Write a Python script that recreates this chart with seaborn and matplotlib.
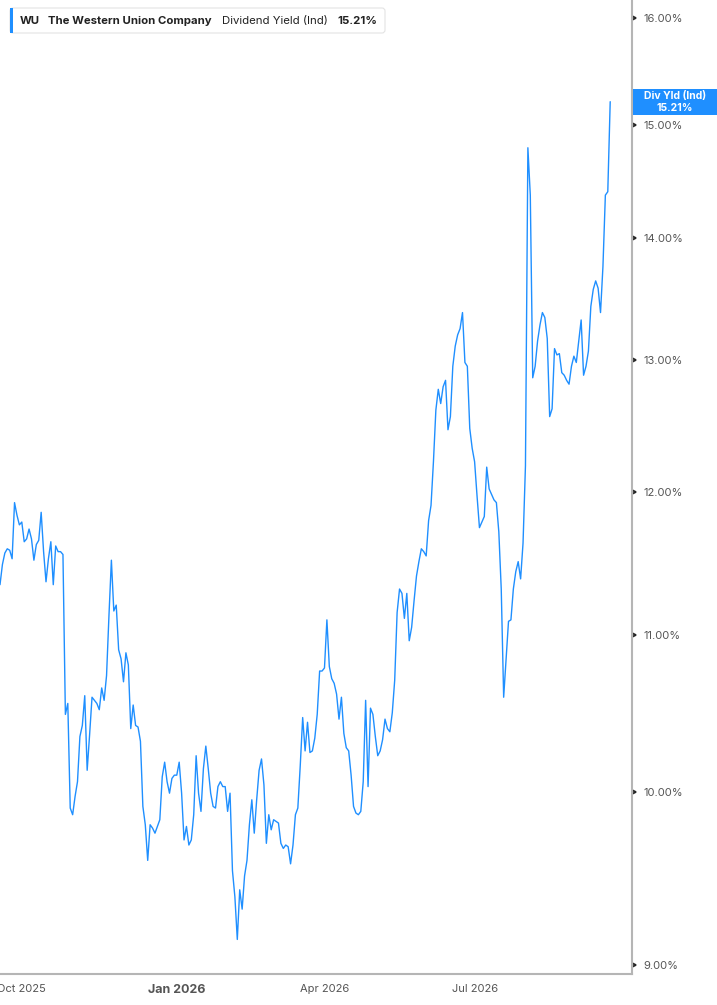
import numpy as np
import pandas as pd
import matplotlib
matplotlib.use('Agg')
import matplotlib.pyplot as plt
import seaborn as sns
from matplotlib.patches import Rectangle, FancyBboxPatch
from matplotlib.transforms import IdentityTransform
from matplotlib.ticker import FixedLocator, NullLocator
from matplotlib import markers

# Daily dividend yield (Ind), %, one value per trading day
yield_pct = [
    11.34, 11.48, 11.56, 11.59, 11.58, 11.52, 11.92, 11.83, 11.76, 11.78,
    11.64, 11.66, 11.73, 11.66, 11.51, 11.62, 11.65, 11.85, 11.57, 11.36,
    11.52, 11.64, 11.34, 11.61, 11.57, 11.57, 11.55, 10.48, 10.55, 9.90,
    9.86, 9.97, 10.06, 10.34, 10.41, 10.60, 10.13, 10.35, 10.59, 10.57,
    10.55, 10.51, 10.65, 10.57, 10.73, 11.13, 11.51, 11.16, 11.20, 10.90,
    10.84, 10.69, 10.88, 10.80, 10.39, 10.54, 10.41, 10.40, 10.31, 9.91,
    9.80, 9.59, 9.80, 9.78, 9.75, 9.79, 9.83, 10.09, 10.18, 10.06,
    9.99, 10.08, 10.10, 10.10, 10.18, 9.99, 9.71, 9.79, 9.68, 9.71,
    9.86, 10.22, 9.99, 9.88, 10.14, 10.28, 10.14, 9.99, 9.91, 9.90,
    10.03, 10.06, 10.03, 10.03, 9.88, 9.99, 9.53, 9.38, 9.14, 9.42,
    9.31, 9.50, 9.59, 9.80, 9.95, 9.75, 9.95, 10.13, 10.20, 10.04,
    9.69, 9.86, 9.77, 9.83, 9.82, 9.81, 9.69, 9.66, 9.68, 9.67,
    9.57, 9.68, 9.86, 9.90, 10.16, 10.46, 10.25, 10.43, 10.24, 10.25,
    10.33, 10.48, 10.76, 10.76, 10.78, 11.10, 10.79, 10.71, 10.68, 10.61,
    10.45, 10.59, 10.36, 10.27, 10.25, 10.10, 9.91, 9.87, 9.86, 9.88,
    10.06, 10.57, 10.03, 10.52, 10.48, 10.34, 10.22, 10.25, 10.32, 10.45,
    10.39, 10.37, 10.49, 10.70, 11.15, 11.31, 11.28, 11.11, 11.28, 10.96,
    11.05, 11.23, 11.40, 11.50, 11.59, 11.57, 11.54, 11.79, 11.90, 12.22,
    12.61, 12.77, 12.66, 12.79, 12.84, 12.46, 12.56, 12.95, 13.11, 13.20,
    13.25, 13.38, 12.98, 12.95, 12.47, 12.32, 12.22, 11.97, 11.74, 11.78,
    11.82, 12.18, 12.02, 11.98, 11.94, 11.92, 11.71, 11.31, 10.59, 10.84,
    11.09, 11.10, 11.31, 11.43, 11.50, 11.38, 11.63, 12.19, 14.79, 14.37,
    12.86, 12.95, 13.15, 13.28, 13.38, 13.34, 13.17, 12.56, 12.62, 13.09,
    13.04, 13.05, 12.90, 12.88, 12.84, 12.81, 12.95, 13.03, 12.98, 13.15,
    13.32, 12.88, 12.95, 13.07, 13.43, 13.57, 13.64, 13.58, 13.38, 13.76,
    14.37, 14.40, 15.21,
]

start_date = '2025-09-18'
nyse_holidays = ['2025-11-27', '2025-12-25', '2026-01-01', '2026-01-19',
                 '2026-02-16', '2026-04-03', '2026-05-25', '2026-06-19',
                 '2026-07-03', '2026-09-07']
tick_months = ['2025-10-01', '2026-01-01', '2026-04-01', '2026-07-01']
tick_labels = ['Oct 2025', 'Jan 2026', 'Apr 2026', 'Jul 2026']
y_ticks = [9, 10, 11, 12, 13, 14, 15, 16]

ticker_name = 'WU'
company = 'The Western Union Company'
metric = 'Dividend Yield (Ind)'
short_metric = 'Div Yld (Ind)'

blue = '#1f8fff'
axis_grey = '#b5b5b5'
label_grey = '#555555'

sns.set_theme(style='white')
plt.rcParams['font.family'] = ['Inter', 'DejaVu Sans']

bday = pd.offsets.CustomBusinessDay(holidays=nyse_holidays)
dates = pd.date_range(start_date, periods=len(yield_pct), freq=bday)
df = pd.DataFrame({'date': dates, 'pos': np.arange(len(yield_pct)), 'value': yield_pct})
tick_pos = [dates.searchsorted(pd.Timestamp(m)) for m in tick_months]

W, H = 717, 1005
fig = plt.figure(figsize=(W / 100, H / 100), dpi=100)
fig.patch.set_facecolor('white')
ax = fig.add_axes([0, 31 / H, 632 / W, 974 / H])

sns.lineplot(data=df, x='pos', y='value', color=blue, linewidth=1.0, ax=ax)

ax.set_yscale('log')
ax.set_ylim(8.95, 16.18)
ax.set_xlim(0, 261)
ax.set_xlabel('')
ax.set_ylabel('')

# y axis on the right
ax.yaxis.tick_right()
ax.yaxis.set_major_locator(FixedLocator(y_ticks))
ax.yaxis.set_minor_locator(NullLocator())
ax.set_yticklabels([f'{v:.2f}%' for v in y_ticks])
ax.tick_params(axis='y', which='major', length=0, pad=8, labelsize=8, labelcolor=label_grey)
for t in ax.yaxis.get_major_ticks():
    t.tick2line.set_marker(markers.CARETRIGHTBASE)
    t.tick2line.set_markersize(3.5)
    t.tick2line.set_color('#777777')

# x axis
ax.set_xticks(tick_pos)
ax.set_xticklabels(tick_labels)
ax.tick_params(axis='x', which='major', length=4, width=1, color=axis_grey,
               pad=3, labelsize=8, labelcolor=label_grey)
for lab in ax.get_xticklabels():
    if lab.get_text() == 'Jan 2026':
        lab.set_fontweight('bold')
        lab.set_fontsize(9)

for side in ['left', 'top']:
    ax.spines[side].set_visible(False)
for side in ['right', 'bottom']:
    ax.spines[side].set_color(axis_grey)
    ax.spines[side].set_linewidth(1.5)

# last value tag on the right axis
last = yield_pct[-1]
ypix = ax.transData.transform((0, last))[1]
fig.add_artist(Rectangle((633, ypix - 13), 84, 26, transform=IdentityTransform(),
                         facecolor=blue, edgecolor='none'))
fig.text(675 / W, (ypix + 6) / H, short_metric, color='white', fontsize=7.5,
         fontweight='bold', ha='center', va='center')
fig.text(675 / W, (ypix - 6) / H, f'{last:.2f}%', color='white', fontsize=7.5,
         fontweight='bold', ha='center', va='center')

# header legend
fig.add_artist(FancyBboxPatch((10, H - 33), 375, 25, boxstyle='round,pad=0,rounding_size=3',
                              transform=IdentityTransform(), facecolor='white',
                              edgecolor='#e3e3e3', linewidth=0.8))
fig.add_artist(Rectangle((10, H - 33), 3, 25, transform=IdentityTransform(),
                         facecolor=blue, edgecolor='none'))
hy = (H - 21) / H
fs = 8.2
fig.text(20 / W, hy, ticker_name, fontsize=fs, fontweight='bold', color='#222222', va='center')
fig.text(48 / W, hy, company, fontsize=fs, fontweight='bold', color='#222222', va='center')
fig.text(222 / W, hy, metric, fontsize=fs, color='#222222', va='center')
fig.text(337 / W, hy, f'{last:.2f}%', fontsize=fs, fontweight='bold', color='#222222', va='center')

fig.savefig('out.png', dpi=100, facecolor='white')
